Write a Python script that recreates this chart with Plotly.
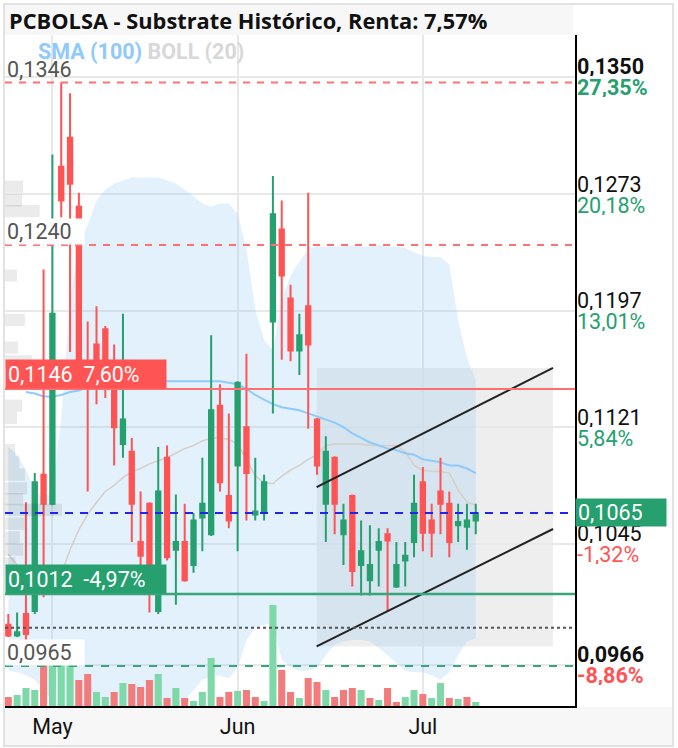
import plotly.graph_objects as go

# ── Data ──────────────────────────────────────────────────────────────────
idx = list(range(54))
opens = [0.0992, 0.0985, 0.0999, 0.1001, 0.1090, 0.1071, 0.1291, 0.1310, 0.1265, 0.1153,
         0.1175, 0.1185, 0.1149, 0.1110, 0.1105, 0.1046, 0.1071, 0.1001, 0.1101, 0.1041,
         0.1046, 0.1031, 0.1062, 0.1051, 0.1135, 0.1076, 0.1096, 0.1121, 0.1064, 0.1065,
         0.1190, 0.1250, 0.1205, 0.1171, 0.1200, 0.1126, 0.1071, 0.1101, 0.1051, 0.1076,
         0.1031, 0.1021, 0.1041, 0.1051, 0.1017, 0.1034, 0.1046, 0.1085, 0.1060, 0.1079,
         0.1071, 0.1057, 0.1056, 0.1060]
highs = [0.0999, 0.1000, 0.1072, 0.1091, 0.1224, 0.1299, 0.1346, 0.1339, 0.1274, 0.1190,
         0.1200, 0.1187, 0.1175, 0.1195, 0.1114, 0.1079, 0.1072, 0.1108, 0.1109, 0.1077,
         0.1071, 0.1065, 0.1101, 0.1181, 0.1149, 0.1130, 0.1151, 0.1169, 0.1101, 0.1090,
         0.1285, 0.1269, 0.1214, 0.1195, 0.1274, 0.1127, 0.1115, 0.1102, 0.1071, 0.1077,
         0.1060, 0.1057, 0.1055, 0.1055, 0.1046, 0.1046, 0.1090, 0.1095, 0.1071, 0.1101,
         0.1079, 0.1071, 0.1071, 0.1071]
lows = [0.0984, 0.0984, 0.0979, 0.0999, 0.1010, 0.1070, 0.1258, 0.1170, 0.1164, 0.1079,
        0.1136, 0.1140, 0.1096, 0.1101, 0.1046, 0.1030, 0.1000, 0.0999, 0.1034, 0.1005,
        0.1020, 0.1026, 0.1040, 0.1050, 0.1079, 0.1055, 0.1040, 0.1060, 0.1060, 0.1060,
        0.1130, 0.1165, 0.1164, 0.1155, 0.1120, 0.1090, 0.1046, 0.1051, 0.1031, 0.1017,
        0.1011, 0.1011, 0.1017, 0.1001, 0.1016, 0.1017, 0.1036, 0.1040, 0.1036, 0.1051,
        0.1036, 0.1046, 0.1041, 0.1051]
closes = [0.0985, 0.0987, 0.0986, 0.1085, 0.1071, 0.1195, 0.1269, 0.1280, 0.1165, 0.1148,
          0.1157, 0.1153, 0.1121, 0.1126, 0.1071, 0.1037, 0.1021, 0.1079, 0.1036, 0.1046,
          0.1021, 0.1060, 0.1071, 0.1132, 0.1085, 0.1060, 0.1150, 0.1091, 0.1066, 0.1085,
          0.1260, 0.1220, 0.1171, 0.1181, 0.1175, 0.1096, 0.1105, 0.1071, 0.1060, 0.1027,
          0.1040, 0.1031, 0.1046, 0.1047, 0.1031, 0.1037, 0.1071, 0.1052, 0.1052, 0.1071,
          0.1046, 0.1059, 0.1060, 0.1065]

volumes = [27, 33, 54, 48, 123, 123, 123, 123, 78, 96, 42, 27, 42, 69, 66, 57, 78, 96, 24, 54,
           24, 15, 42, 144, 27, 42, 45, 48, 27, 15, 303, 108, 42, 24, 84, 72, 48, 27, 48, 54,
           48, 24, 18, 54, 12, 27, 48, 36, 24, 69, 24, 21, 27, 12]
vol_up = "RGGGRGGGRRGGRGRRRGRGRGGGRRGRRGGRRGRRGRRRGRGRRGGRGGRGRG"

boll_upper = [0.1108, 0.1103, 0.1093, 0.1080, 0.1074, 0.1080, 0.1126, 0.1204, 0.1240, 0.1253,
              0.1269, 0.1276, 0.1280, 0.1282, 0.1284, 0.1284, 0.1284, 0.1284, 0.1282, 0.1280,
              0.1276, 0.1272, 0.1267, 0.1265, 0.1267, 0.1267, 0.1260, 0.1237, 0.1198, 0.1178,
              0.1171, 0.1204, 0.1220, 0.1229, 0.1237, 0.1239, 0.1239, 0.1239, 0.1239, 0.1240,
              0.1239, 0.1239, 0.1240, 0.1239, 0.1239, 0.1238, 0.1235, 0.1233, 0.1232, 0.1232,
              0.1227, 0.1191, 0.1166, 0.1152]
boll_mid = [0.1038, 0.1031, 0.1025, 0.1018, 0.1015, 0.1015, 0.1025, 0.1041, 0.1054, 0.1064,
            0.1072, 0.1079, 0.1083, 0.1088, 0.1092, 0.1094, 0.1097, 0.1099, 0.1101, 0.1104,
            0.1107, 0.1109, 0.1112, 0.1114, 0.1114, 0.1113, 0.1110, 0.1100, 0.1089, 0.1085,
            0.1084, 0.1089, 0.1093, 0.1096, 0.1100, 0.1103, 0.1109, 0.1110, 0.1110, 0.1110,
            0.1110, 0.1109, 0.1109, 0.1109, 0.1109, 0.1105, 0.1096, 0.1093, 0.1092, 0.1092,
            0.1091, 0.1080, 0.1072, 0.1070]
boll_lower = [0.0962, 0.0961, 0.0959, 0.0956, 0.0949, 0.0943, 0.0935, 0.0927, 0.0920, 0.0917,
              0.0915, 0.0915, 0.0915, 0.0917, 0.0918, 0.0920, 0.0923, 0.0927, 0.0930, 0.0935,
              0.0943, 0.0949, 0.0956, 0.0958, 0.0959, 0.0957, 0.0964, 0.0982, 0.0990, 0.0992,
              0.0993, 0.0969, 0.0964, 0.0962, 0.0962, 0.0964, 0.0972, 0.0979, 0.0981, 0.0982,
              0.0982, 0.0981, 0.0977, 0.0972, 0.0967, 0.0962, 0.0961, 0.0961, 0.0959, 0.0956,
              0.0961, 0.0972, 0.0981, 0.0983]

sma_idx = list(range(2, 54))
sma_100 = [0.1144, 0.1143, 0.1141, 0.1141, 0.1142, 0.1144, 0.1145, 0.1147, 0.1147, 0.1148,
           0.1149, 0.1149, 0.1150, 0.1150, 0.1151, 0.1151, 0.1151, 0.1151, 0.1151, 0.1151,
           0.1151, 0.1151, 0.1151, 0.1150, 0.1149, 0.1146, 0.1142, 0.1139, 0.1136, 0.1134,
           0.1133, 0.1132, 0.1130, 0.1128, 0.1126, 0.1124, 0.1121, 0.1117, 0.1114, 0.1111,
           0.1109, 0.1107, 0.1106, 0.1104, 0.1103, 0.1100, 0.1099, 0.1098, 0.1096, 0.1096,
           0.1094, 0.1091]

# volume-by-price profile on the left edge
profile_prices = [0.1278, 0.1269, 0.1262, 0.1220, 0.1191, 0.1173, 0.1164, 0.1135, 0.1127, 0.1106,
                  0.1098, 0.1090, 0.1081, 0.1074, 0.1067, 0.1058, 0.1049, 0.1041, 0.1032]
profile_sizes = [0.32, 0.30, 0.61, 0.21, 0.35, 0.23, 0.47, 0.30, 0.21, 0.18,
                 0.25, 0.35, 0.39, 0.32, 1.00, 0.35, 0.26, 0.32, 0.18]

month_pos = [5, 26, 47]
month_labels = ["May", "Jun", "Jul"]

axis_ticks = [0.1350, 0.1273, 0.1197, 0.1121, 0.1045, 0.0966]
axis_pct = ["27,35%", "20,18%", "13,01%", "5,84%", "-1,32%", "-8,86%"]

# channel drawing (start / end)
channel_x = [34.96, 61.76]
channel_upper = [0.10819, 0.11597]
channel_lower = [0.09778, 0.10545]

resist_hi = 0.1346
resist_mid = 0.1240
target_up = 0.1146
last_price = 0.1065
target_down = 0.1012
stop_level = 0.0990
support_lo = 0.0965

# ── Style ────────────────────────────────────────────────────────────────
GREEN = "#26a06f"
RED = "#ff5454"
FONT = "Roboto"
FS = 21.5
Y_RANGE = [0.09389, 0.13771]
X_RANGE = [-0.374, 64.25]


def fx(px):
    return (px - 5) / 570


def fy(py):
    return (706 - py) / 671


fig = go.Figure()

# Bollinger band fill + middle line
fig.add_trace(go.Scatter(x=idx, y=boll_lower, mode="lines", line=dict(width=0),
                         hoverinfo="skip", showlegend=False))
fig.add_trace(go.Scatter(x=idx, y=boll_upper, mode="lines", line=dict(width=0),
                         fill="tonexty", fillcolor="rgba(150,205,245,0.28)",
                         hoverinfo="skip", showlegend=False))
fig.add_trace(go.Scatter(x=idx, y=boll_mid, mode="lines",
                         line=dict(color="#d8cec6", width=1.5), showlegend=False))
fig.add_trace(go.Scatter(x=sma_idx, y=sma_100, mode="lines",
                         line=dict(color="#90caf9", width=2), showlegend=False))

# volume
fig.add_trace(go.Bar(x=idx, y=volumes, yaxis="y2", width=0.8,
                     marker=dict(color=["#7fd8a8" if c == "G" else "#f27c7c" for c in vol_up],
                                 line=dict(width=0)),
                     showlegend=False))

# volume profile
fig.add_trace(go.Bar(x=profile_sizes, y=profile_prices, orientation="h", xaxis="x2",
                     width=0.0008, marker=dict(color="rgba(0,0,0,0.08)", line=dict(width=0)),
                     showlegend=False))

# candles
fig.add_trace(go.Candlestick(
    x=idx, open=opens, high=highs, low=lows, close=closes, yaxis="y3",
    increasing=dict(line=dict(color=GREEN, width=2), fillcolor=GREEN),
    decreasing=dict(line=dict(color=RED, width=2), fillcolor=RED),
    whiskerwidth=0, showlegend=False))

shapes = [
    # frame and header/footer backgrounds
    dict(type="rect", xref="paper", yref="paper", x0=fx(5), x1=fx(573), y0=fy(35), y1=fy(5),
         fillcolor="#f7f7f7", line=dict(width=0), layer="below"),
    dict(type="rect", xref="paper", yref="paper", x0=fx(5), x1=fx(672), y0=fy(745), y1=fy(707),
         fillcolor="#f7f7f7", line=dict(width=0), layer="below"),
    dict(type="rect", xref="paper", yref="paper", x0=fx(4), x1=fx(673), y0=fy(746), y1=fy(4),
         line=dict(color="#e2e2e2", width=2)),
    # channel box and lines
    dict(type="rect", xref="x", yref="y", x0=channel_x[0], x1=channel_x[1],
         y0=channel_lower[0], y1=channel_upper[1],
         fillcolor="rgba(0,0,0,0.065)", line=dict(width=0), layer="below"),
    dict(type="line", xref="x", yref="y", x0=channel_x[0], x1=channel_x[1],
         y0=channel_upper[0], y1=channel_upper[1], line=dict(color="#222", width=2)),
    dict(type="line", xref="x", yref="y", x0=channel_x[0], x1=channel_x[1],
         y0=channel_lower[0], y1=channel_lower[1], line=dict(color="#222", width=2)),
]


def hline(y, color, dash="solid", width=2):
    return dict(type="line", xref="paper", yref="y", x0=0, x1=1, y0=y, y1=y,
                line=dict(color=color, width=width, dash=dash))


shapes += [
    hline(resist_hi, "#ff7070", "7px,7px"),
    hline(resist_mid, "#ff7070", "7px,7px"),
    hline(target_up, "#ff6f6f"),
    hline(last_price, "#2323f0", "8px,7px"),
    hline(target_down, "#3aa57a", width=2.5),
    hline(stop_level, "#555555", "3px,3px"),
    hline(support_lo, "#3aa57a", "8px,8px"),
]

ann = []
ann.append(dict(xref="paper", yref="paper", x=fx(7), y=fy(20), xanchor="left", yanchor="middle",
                text="<b>PCBOLSA - Substrate Histórico, Renta: 7,57%</b>", showarrow=False,
                font=dict(family="Open Sans", size=21.8, color="#111")))
ann.append(dict(xref="paper", yref="paper", x=fx(36), y=fy(52), xanchor="left", yanchor="middle",
                text="<b><span style='color:#90caf9'>SMA (100)</span> "
                     "<span style='color:#d8d8d8'>BOLL (20)</span></b>",
                showarrow=False, font=dict(family=FONT, size=FS)))

for v, bg in [(resist_hi, "rgba(255,255,255,0)"), (resist_mid, "white"), (support_lo, "white")]:
    ann.append(dict(xref="paper", yref="y", x=0, y=v, xanchor="left", yanchor="bottom",
                    text=f"{v:.4f}".replace(".", ","), showarrow=False, align="left",
                    width=76, height=23, borderpad=1, bgcolor=bg,
                    font=dict(family=FONT, size=FS, color="#555")))

for v, pct, bg in [(target_up, "7,60%", RED), (target_down, "-4,97%", GREEN)]:
    ann.append(dict(xref="paper", yref="y", x=0, y=v, xanchor="left", yanchor="bottom",
                    text=f"{v:.4f}".replace(".", ",") + "  " + pct, showarrow=False,
                    align="left", width=156, height=24, borderpad=2, bgcolor=bg,
                    font=dict(family=FONT, size=FS, color="white")))

for k, (v, pct) in enumerate(zip(axis_ticks, axis_pct)):
    label = f"{v:.4f}".replace(".", ",")
    if k in (0, len(axis_ticks) - 1):
        label = f"<b>{label}</b>"
        pct = f"<b>{pct}</b>"
    ann.append(dict(xref="paper", yref="y", x=1, y=v, xanchor="left", yanchor="middle",
                    xshift=1, yshift=10.5, height=20, borderpad=0, text=label, showarrow=False,
                    font=dict(family=FONT, size=FS, color="#111")))
    ann.append(dict(xref="paper", yref="y", x=1, y=v, xanchor="left", yanchor="middle",
                    xshift=1, yshift=-10.5, height=20, borderpad=0, text=pct, showarrow=False,
                    font=dict(family=FONT, size=FS, color=RED if "-" in pct else GREEN)))

ann.append(dict(xref="paper", yref="y", x=1, y=last_price, xanchor="left", yanchor="middle",
                text=f"{last_price:.4f}".replace(".", ","), showarrow=False, align="left",
                width=86, height=23, borderpad=2, bgcolor=GREEN,
                font=dict(family=FONT, size=FS, color="white")))

fig.update_layout(
    width=678, height=748,
    margin=dict(l=5, r=103, t=35, b=42),
    paper_bgcolor="white", plot_bgcolor="white",
    showlegend=False, bargap=0.2,
    xaxis=dict(range=X_RANGE, tickvals=month_pos, ticktext=month_labels,
               showgrid=True, gridcolor="#e8e8e8", gridwidth=1.5, zeroline=False,
               showline=True, linecolor="black", linewidth=2, ticks="",
               tickfont=dict(family=FONT, size=FS, color="#111"),
               rangeslider=dict(visible=False), fixedrange=True),
    xaxis2=dict(overlaying="x", range=[0, 10], visible=False, fixedrange=True),
    yaxis=dict(range=Y_RANGE, side="right", tickvals=axis_ticks, showticklabels=False,
               showgrid=True, gridcolor="#e8e8e8", gridwidth=1.5, zeroline=False,
               showline=True, linecolor="black", linewidth=2, ticks="", fixedrange=True),
    yaxis2=dict(overlaying="y", range=[0, 2013], visible=False, fixedrange=True),
    yaxis3=dict(overlaying="y", range=Y_RANGE, visible=False, fixedrange=True),
    shapes=shapes,
    annotations=ann,
)

fig.write_html("out.html", config={"displayModeBar": False},
               post_script="document.body.style.margin='0';")
